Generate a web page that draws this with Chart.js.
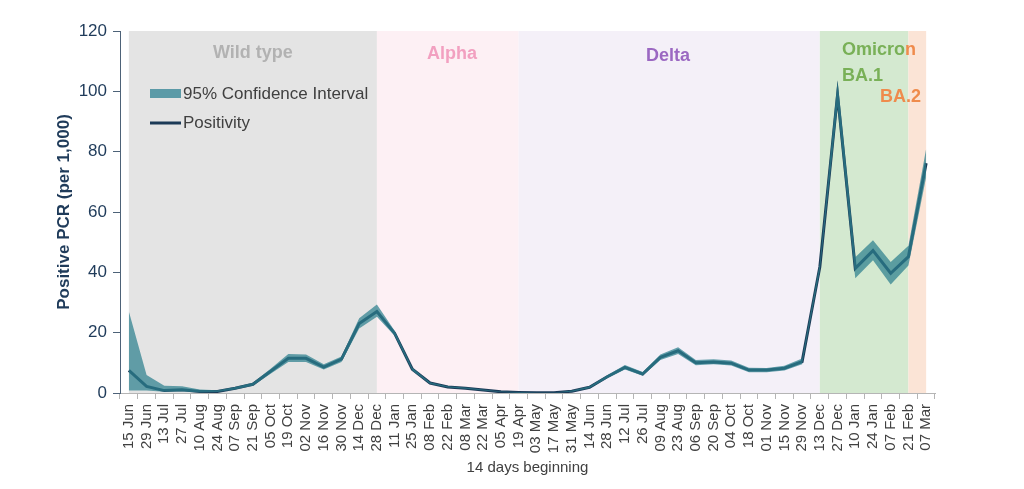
<!DOCTYPE html>
<html><head><meta charset="utf-8">
<script src="https://cdn.jsdelivr.net/npm/chart.js@4.4.1/dist/chart.umd.min.js"></script>
<style>html,body{margin:0;padding:0;background:#fff;}#wrap{width:1024px;height:489px;position:relative;}</style>
</head><body><div id="wrap"><canvas id="c" width="1024" height="489"></canvas></div>
<script>
const labels = ["15 Jun","29 Jun","13 Jul","27 Jul","10 Aug","24 Aug","07 Sep","21 Sep","05 Oct","19 Oct","02 Nov","16 Nov","30 Nov","14 Dec","28 Dec","11 Jan","25 Jan","08 Feb","22 Feb","08 Mar","22 Mar","05 Apr","19 Apr","03 May","17 May","31 May","14 Jun","28 Jun","12 Jul","26 Jul","09 Aug","23 Aug","06 Sep","20 Sep","04 Oct","18 Oct","01 Nov","15 Nov","29 Nov","13 Dec","27 Dec","10 Jan","24 Jan","07 Feb","21 Feb","07 Mar"];
const positivity = [7.5,2.2,0.8,1.1,0.5,0.5,1.6,2.9,7.2,11.5,11.5,8.6,11.2,23.0,27.0,19.8,7.9,3.3,2.0,1.6,1.0,0.4,0.2,0.1,0.1,0.6,1.9,5.4,8.5,6.3,11.8,14.0,10.0,10.3,9.9,7.6,7.6,8.2,10.4,41.8,98.8,41.3,47.2,39.7,45.2,76.2];
const ciLower = [0.8,0.8,0.4,0.5,0.2,0.3,1.2,2.4,6.4,10.3,10.3,7.8,10.3,21.4,25.3,19.0,7.4,3.0,1.8,1.4,0.8,0.3,0.1,0.05,0.05,0.4,1.6,4.9,7.8,5.7,10.9,12.9,9.2,9.5,9.1,6.9,6.9,7.5,9.5,40.5,95.0,38.0,44.0,36.0,42.3,71.5];
const ciUpper = [27.0,6.0,2.4,2.2,1.2,0.9,2.0,3.4,8.0,12.9,12.8,9.5,12.1,24.8,29.3,20.6,8.4,3.6,2.2,1.8,1.2,0.5,0.3,0.2,0.2,0.8,2.2,5.9,9.3,7.0,12.8,15.2,10.9,11.2,10.8,8.4,8.3,9.0,11.4,43.2,103.5,45.0,50.6,43.4,48.8,81.0];
const yTicks = [0,20,40,60,80,100,120];
const variantNames = ["Wild type","Alpha","Delta","BA.1","BA.2"];
const variantStart = [0,14,22,39,44];
const variantEnd = [14,22,39,44,45];
const variantFill = ["#e4e4e4","#fdf0f4","#f4f0f8","#d4e9d0","#fbe4d6"];

const FONT = "'Liberation Sans', Arial, sans-serif";

const bandsPlugin = {
  id: 'bands',
  beforeDatasetsDraw(chart) {
    const {ctx, chartArea, scales} = chart;
    const x = scales.x;
    ctx.save();
    for (let i = 0; i < variantNames.length; i++) {
      const x0 = x.getPixelForValue(variantStart[i]);
      const x1 = x.getPixelForValue(variantEnd[i]);
      ctx.fillStyle = variantFill[i];
      ctx.fillRect(x0, chartArea.top, x1 - x0, chartArea.bottom - chartArea.top);
    }
    ctx.restore();
  },
  afterDatasetsDraw(chart) {
    const {ctx, scales} = chart;
    const x = scales.x;
    ctx.save();
    ctx.font = "bold 18px " + FONT;
    ctx.textBaseline = 'middle';
    ctx.textAlign = 'center';
    ctx.fillStyle = '#b2b2b2';
    ctx.fillText('Wild type', (x.getPixelForValue(0) + x.getPixelForValue(14)) / 2, 53);
    ctx.fillStyle = '#f2a0c0';
    ctx.fillText('Alpha', 452, 54);
    ctx.fillStyle = '#9b68c2';
    ctx.fillText('Delta', 668, 56);
    ctx.textAlign = 'left';
    const ox = 842;
    ctx.fillStyle = '#79b057';
    ctx.fillText('Omicro', ox, 50);
    const w = ctx.measureText('Omicro').width;
    ctx.fillStyle = '#ef8b4c';
    ctx.fillText('n', ox + w, 50);
    ctx.fillStyle = '#79b057';
    ctx.fillText('BA.1', ox, 76);
    ctx.fillStyle = '#ef8b4c';
    ctx.fillText('BA.2', 880, 97);

    // legend
    ctx.fillStyle = '#5b9aa7';
    ctx.fillRect(150, 89, 31, 9);
    ctx.strokeStyle = '#1c3a57';
    ctx.lineWidth = 3;
    ctx.beginPath(); ctx.moveTo(150, 123); ctx.lineTo(181, 123); ctx.stroke();
    ctx.font = "17px " + FONT;
    ctx.fillStyle = '#404040';
    ctx.fillText('95% Confidence Interval', 183, 94);
    ctx.fillText('Positivity', 183, 123);
    ctx.restore();
  }
};

new Chart(document.getElementById('c'), {
  type: 'line',
  data: {
    labels: labels,
    datasets: [
      {label: 'CI upper', data: ciUpper, borderWidth: 0, pointRadius: 0, fill: '+1', backgroundColor: 'rgba(45,128,142,0.72)', tension: 0},
      {label: 'CI lower', data: ciLower, borderWidth: 0, pointRadius: 0, fill: false, tension: 0},
      {label: 'Positivity', data: positivity, borderColor: '#1c3a57', borderWidth: 3, pointRadius: 0, fill: false, tension: 0}
    ]
  },
  options: {
    responsive: false,
    animation: false,
    events: [],
    layout: {padding: {left: 54, right: 89, top: 31, bottom: 12}},
    plugins: {legend: {display: false}, tooltip: {enabled: false}},
    scales: {
      x: {
        type: 'category',
        offset: true,
        afterFit(scale) { scale.height = 84; },
        grid: {offset: true, drawOnChartArea: false, drawTicks: true, tickLength: 6, color: '#b5b5b5'},
        border: {color: '#b5b5b5'},
        ticks: {autoSkip: false, maxRotation: 90, minRotation: 90, padding: 5, color: '#404040', font: {family: FONT, size: 15}},
        title: {display: true, text: '14 days beginning', color: '#404040', font: {family: FONT, size: 15}, padding: {top: 0, bottom: 0}}
      },
      y: {
        min: 0, max: 120,
        afterBuildTicks(scale) { scale.ticks = yTicks.map(v => ({value: v})); },
        afterFit(scale) { scale.width = 66; },
        grid: {drawOnChartArea: false, drawTicks: true, tickLength: 7, color: '#4d6278'},
        border: {color: '#4d6278'},
        ticks: {color: '#1f3b5a', padding: 6, font: {family: FONT, size: 17}},
        title: {display: true, text: 'Positive PCR (per 1,000)', color: '#1f3b5a', font: {family: FONT, size: 17, weight: 'bold'}, padding: {top: 0, bottom: 0}}
      }
    }
  },
  plugins: [bandsPlugin]
});
</script></body></html>
